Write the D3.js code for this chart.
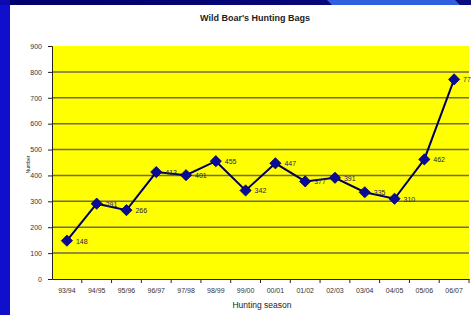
<!DOCTYPE html>
<html>
<head>
<meta charset="utf-8">
<script src="https://cdnjs.cloudflare.com/ajax/libs/d3/7.8.5/d3.min.js"></script>
<style>
  body { margin: 0; padding: 0; background: #fff; }
  svg { display: block; font-family: Arial, "Liberation Sans", sans-serif; }
</style>
</head>
<body>
<div id="root"></div>
<script>
var seasons = ["93/94", "94/95", "95/96", "96/97", "97/98", "98/99", "99/00",
  "00/01", "01/02", "02/03", "03/04", "04/05", "05/06", "06/07"];
var bags = [148, 291, 266, 413, 401, 455, 342, 447, 377, 391, 335, 310, 462, 771];
var yTicks = [0, 100, 200, 300, 400, 500, 600, 700, 800, 900];

var w = 471, h = 315;
var margin = { top: 46, right: 2, bottom: 36, left: 52 };

var svg = d3.select("#root").append("svg").attr("width", w).attr("height", h);

// slide background
var grad = svg.append("defs").append("linearGradient").attr("id", "topband")
  .attr("x1", "0").attr("x2", "1").attr("y1", "0").attr("y2", "0");
grad.append("stop").attr("offset", "0").attr("stop-color", "#00006a");
grad.append("stop").attr("offset", "1").attr("stop-color", "#0a0a80");
svg.append("rect").attr("width", w).attr("height", h).attr("fill", "#ffffff");
svg.append("rect").attr("x", 0).attr("y", 0).attr("width", 10).attr("height", h).attr("fill", "#1010cc");
svg.append("rect").attr("x", 0).attr("y", 0).attr("width", w).attr("height", 5).attr("fill", "url(#topband)");
svg.append("path").attr("d", "M327,0 L455,0 L460,5 L332,5 Z").attr("fill", "#2f5ee0");
svg.append("rect").attr("x", 0).attr("y", 0).attr("width", 10).attr("height", 5).attr("fill", "#0a0ab0");

var x = d3.scaleBand().domain(seasons).range([margin.left, w - margin.right]);
var y = d3.scaleLinear().domain([0, 900]).range([h - margin.bottom, margin.top]);

// plot area
svg.append("rect").attr("x", margin.left).attr("y", margin.top)
  .attr("width", w - margin.right - margin.left).attr("height", h - margin.bottom - margin.top)
  .attr("fill", "#ffff00");

// gridlines
svg.append("g").selectAll("line").data(yTicks.filter(function(d) { return d > 0 && d < 900; }))
  .enter().append("line")
  .attr("x1", margin.left).attr("x2", w - margin.right)
  .attr("y1", function(d) { return y(d); }).attr("y2", function(d) { return y(d); })
  .attr("stroke", "#6e6a50").attr("stroke-width", 1.5);

// y axis
var yAxis = d3.axisLeft(y).tickValues(yTicks).tickSize(4).tickPadding(6);
var gy = svg.append("g").attr("transform", "translate(" + margin.left + ",0)").call(yAxis);
gy.selectAll("text").style("font-size", "7px").attr("fill", "#333");
gy.selectAll("line, path").attr("stroke", "#222");

// x axis, ticks at category boundaries
var xAxis = d3.axisBottom(x).tickSize(0).tickPadding(9);
var gx = svg.append("g").attr("transform", "translate(0," + (h - margin.bottom) + ")").call(xAxis);
gx.selectAll("text").style("font-size", "7px").attr("fill", "#333");
gx.select(".domain").attr("stroke", "#222");
gx.selectAll(".bound").data(seasons).enter().append("line")
  .attr("x1", function(d) { return x(d) + x.bandwidth(); })
  .attr("x2", function(d) { return x(d) + x.bandwidth(); })
  .attr("y1", 0).attr("y2", 4).attr("stroke", "#222");

// line and markers
var cx = function(d, i) { return x(seasons[i]) + x.bandwidth() / 2; };
var line = d3.line().x(cx).y(function(d) { return y(d); });
svg.append("path").datum(bags).attr("d", line)
  .attr("fill", "none").attr("stroke", "#000060").attr("stroke-width", 2);

svg.selectAll(".pt").data(bags).enter().append("path").attr("class", "pt")
  .attr("d", d3.symbol().type(d3.symbolDiamond2).size(80))
  .attr("transform", function(d, i) { return "translate(" + cx(d, i) + "," + y(d) + ")"; })
  .attr("fill", "#0a0a9a").attr("stroke", "#000060").attr("stroke-width", 0.8);

svg.selectAll(".lbl").data(bags).enter().append("text").attr("class", "lbl")
  .attr("x", function(d, i) { return cx(d, i) + 9; })
  .attr("y", function(d) { return y(d) + 3; })
  .style("font-size", "7px").attr("fill", "#22225a")
  .text(function(d) { return d; });

// titles
svg.append("text").attr("x", 255).attr("y", 21).attr("text-anchor", "middle")
  .style("font-size", "9px").style("font-weight", "bold").attr("fill", "#222")
  .text("Wild Boar's Hunting Bags");
svg.append("text").attr("x", 262).attr("y", 308).attr("text-anchor", "middle")
  .style("font-size", "8.5px").attr("fill", "#222").text("Hunting season");
svg.append("text").attr("transform", "translate(30," + ((margin.top + h - margin.bottom) / 2 + 2) + ") rotate(-90)")
  .attr("text-anchor", "middle").style("font-size", "5px").attr("fill", "#222").text("Number");
</script>
</body>
</html>
